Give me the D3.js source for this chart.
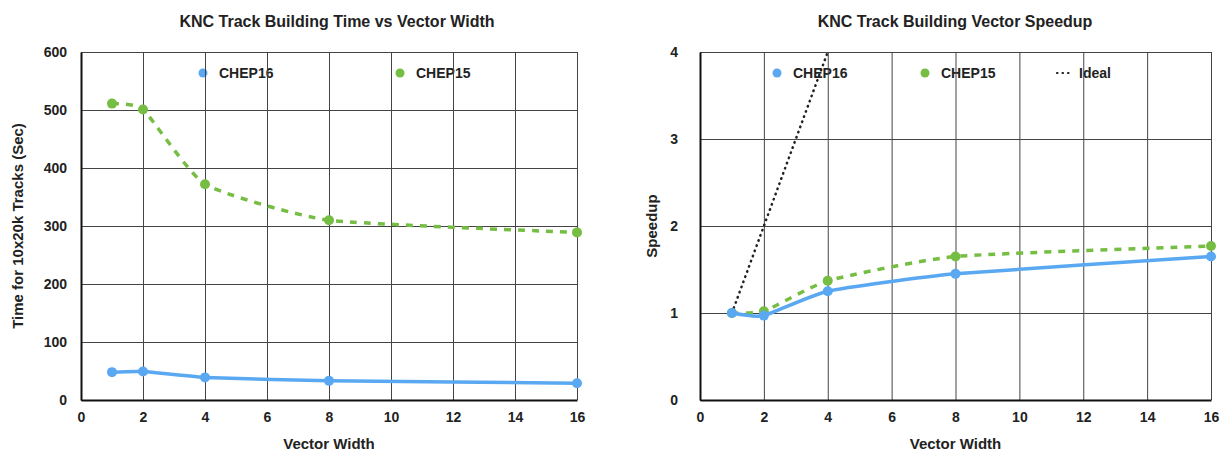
<!DOCTYPE html>
<html>
<head>
<meta charset="utf-8">
<title>KNC Track Building</title>
<script src="https://cdn.jsdelivr.net/npm/d3@7"></script>
<style>
  body { margin: 0; background: #fff; }
  svg { font-family: "Liberation Sans", Arial, sans-serif; }
  .tick text { font-size: 14px; font-weight: bold; fill: #222; }
  .grid line { stroke: #444; stroke-width: 1; }
</style>
</head>
<body>
<div id="viz"></div>
<script>
// vector widths (x values)
var widths = [1, 2, 4, 8, 16];
// time for 10x20k tracks in seconds
var timeChep16 = [48, 49, 39, 33, 29];
var timeChep15 = [511, 501, 372, 310, 289];
// speedup vs vector width
var speedChep16 = [1.0, 0.97, 1.25, 1.45, 1.65];
var speedChep15 = [1.0, 1.02, 1.37, 1.65, 1.77];
var idealWidths = [1, 2, 4];
var idealSpeed = [1, 2, 4];
// tick labels
var xTicks = [0, 2, 4, 6, 8, 10, 12, 14, 16];
var timeTicks = [0, 100, 200, 300, 400, 500, 600];
var speedTicks = [0, 1, 2, 3, 4];

var blue = "#5aa8f2", green = "#76bd43";

var svg = d3.select("#viz").append("svg")
    .attr("width", 1227).attr("height", 453);

function pts(xs, ys) {
    return xs.map(function(x, i) { return [x, ys[i]]; });
}

// draw one panel; box holds the pixel frame of the plot area
function panel(box, opt) {
    var x = d3.scaleLinear().domain([0, 16]).range([box.left, box.right]);
    var y = d3.scaleLinear().domain(opt.yDomain).range([box.bottom, box.top]);
    var g = svg.append("g");

    // legend sits under the grid, like the original
    var lg = g.append("g");
    opt.legend.forEach(function(d) {
        if (d.dotted) {
            lg.append("line").attr("x1", d.x - 6).attr("x2", d.x + 6)
                .attr("y1", 73).attr("y2", 73)
                .attr("stroke", "#222").attr("stroke-width", 2.2)
                .attr("stroke-dasharray", "0.5,5").attr("stroke-linecap", "round");
        } else {
            lg.append("circle").attr("cx", d.x).attr("cy", 73).attr("r", 4.5).attr("fill", d.color);
        }
        lg.append("text").attr("x", d.x + 16).attr("y", 78)
            .style("font-size", "14px").style("font-weight", "bold").attr("fill", "#222")
            .text(d.name);
    });

    // grid
    g.append("g").attr("class", "grid")
        .attr("transform", "translate(0," + box.bottom + ")")
        .call(d3.axisBottom(x).tickValues(xTicks).tickSize(-(box.bottom - box.top)).tickFormat(""))
        .call(function(s) { s.select(".domain").remove(); });
    g.append("g").attr("class", "grid")
        .attr("transform", "translate(" + box.left + ",0)")
        .call(d3.axisLeft(y).tickValues(opt.yTicks).tickSize(-(box.right - box.left)).tickFormat(""))
        .call(function(s) { s.select(".domain").remove(); });

    // axes
    var xa = g.append("g").attr("transform", "translate(0," + box.bottom + ")")
        .call(d3.axisBottom(x).tickValues(xTicks).tickSize(0).tickPadding(12));
    xa.select(".domain").attr("stroke", "#111").attr("stroke-width", 2);
    var ya = g.append("g").attr("transform", "translate(" + box.left + ",0)")
        .call(d3.axisLeft(y).tickValues(opt.yTicks).tickSize(0).tickPadding(opt.yPad)
            .tickFormat(d3.format("d")));
    ya.select(".domain").attr("stroke", "#111").attr("stroke-width", 2);

    // series - smoothed like the spreadsheet original, ideal line straight
    var smooth = d3.line().x(function(d) { return x(d[0]); }).y(function(d) { return y(d[1]); })
        .curve(d3.curveCardinal.tension(0.5));
    var straight = d3.line().x(function(d) { return x(d[0]); }).y(function(d) { return y(d[1]); });
    opt.series.forEach(function(s) {
        var data = pts(s.xs, s.ys);
        var path = g.append("path").datum(data).attr("d", s.straight ? straight : smooth)
            .attr("fill", "none")
            .attr("stroke", s.color).attr("stroke-width", s.width);
        if (s.dash) path.attr("stroke-dasharray", s.dash);
        if (s.cap) path.attr("stroke-linecap", s.cap);
        if (s.dots) {
            g.selectAll(null).data(data).enter().append("circle")
                .attr("cx", function(d) { return x(d[0]); })
                .attr("cy", function(d) { return y(d[1]); })
                .attr("r", 5).attr("fill", s.color);
        }
    });

    // titles
    var cx = (box.left + box.right) / 2;
    svg.append("text").attr("x", opt.titleX).attr("y", 27).attr("text-anchor", "middle")
        .style("font-size", "16px").style("font-weight", "bold").attr("fill", "#222").text(opt.title);
    svg.append("text").attr("x", cx).attr("y", 449).attr("text-anchor", "middle")
        .style("font-size", "15px").style("font-weight", "bold").attr("fill", "#222").text("Vector Width");
    svg.append("text").attr("transform", "translate(" + opt.yLabelX + "," + ((box.top + box.bottom) / 2) + ") rotate(-90)")
        .attr("text-anchor", "middle")
        .style("font-size", "15px").style("font-weight", "bold").attr("fill", "#222").text(opt.yLabel);
}

panel({left: 81, right: 577, top: 52, bottom: 400}, {
    yDomain: [0, 600], yTicks: timeTicks, yPad: 14,
    title: "KNC Track Building Time vs Vector Width", titleX: 337,
    yLabel: "Time for 10x20k Tracks (Sec)", yLabelX: 23,
    legend: [{x: 203, name: "CHEP16", color: blue}, {x: 400, name: "CHEP15", color: green}],
    series: [
        {xs: widths, ys: timeChep15, color: green, width: 3.5, dash: "7,7", dots: true},
        {xs: widths, ys: timeChep16, color: blue, width: 3.5, dots: true}
    ]
});

panel({left: 700, right: 1211, top: 52, bottom: 400}, {
    yDomain: [0, 4], yTicks: speedTicks, yPad: 22,
    title: "KNC Track Building Vector Speedup", titleX: 955,
    yLabel: "Speedup", yLabelX: 657,
    legend: [{x: 777, name: "CHEP16", color: blue}, {x: 925, name: "CHEP15", color: green},
             {x: 1063, name: "Ideal", dotted: true}],
    series: [
        {xs: idealWidths, ys: idealSpeed, color: "#222", width: 2.5, dash: "0.5,5", cap: "round", straight: true},
        {xs: widths, ys: speedChep15, color: green, width: 3.5, dash: "7,7", dots: true},
        {xs: widths, ys: speedChep16, color: blue, width: 3.5, dots: true}
    ]
});
</script>
</body>
</html>
